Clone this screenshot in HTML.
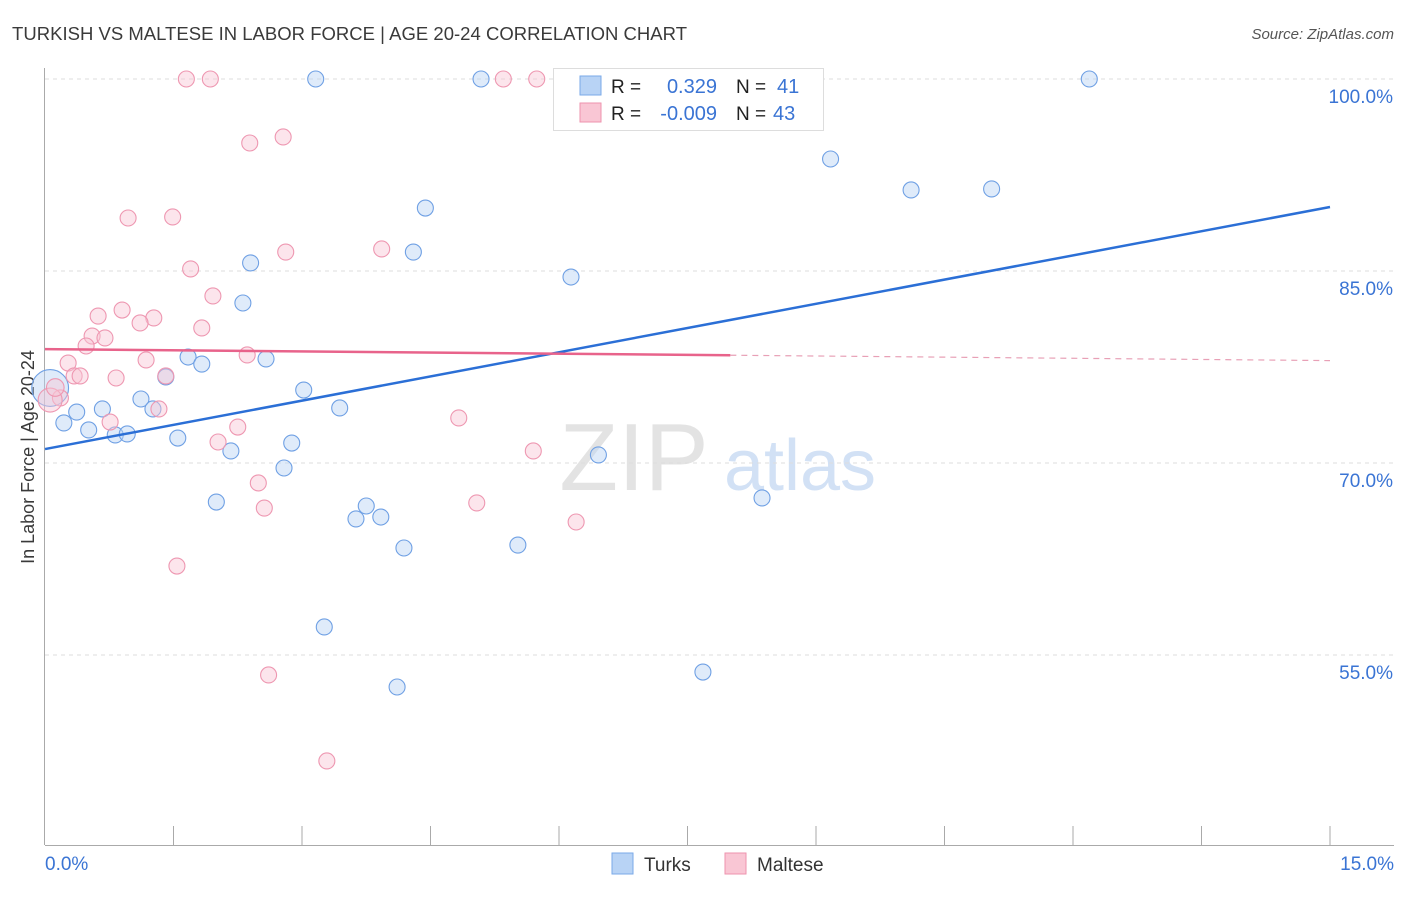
<!DOCTYPE html>
<html><head><meta charset="utf-8"><style>
body{margin:0;background:#fff;font-family:"Liberation Sans",sans-serif;}
svg text{font-family:"Liberation Sans",sans-serif;}
</style></head><body>
<svg id="chart" width="1406" height="892" xmlns="http://www.w3.org/2000/svg">
<text x="12" y="40" font-size="18.5" fill="#3a3a3a" textLength="675">TURKISH VS MALTESE IN LABOR FORCE | AGE 20-24 CORRELATION CHART</text>
<text x="1394" y="39" font-size="15" fill="#555" font-style="italic" text-anchor="end">Source: ZipAtlas.com</text>
<text transform="translate(34,457) rotate(-90)" font-size="18" fill="#3a3a3a" text-anchor="middle">In Labor Force | Age 20-24</text>
<g>
<text x="634" y="490" font-size="96" fill="#ddd" font-family="Liberation Serif" text-anchor="middle" opacity="0.8">ZIP</text>
<text x="800" y="490" font-size="72" fill="#c8daf3" text-anchor="middle" opacity="0.8">atlas</text>
</g>
<g id="grid"></g><g id="axes"></g><g id="marks"></g>
<g>
<rect x="553.5" y="68.5" width="270" height="62" fill="#fff" stroke="#ddd"/>
<rect x="580" y="76" width="21" height="19" fill="#b8d3f5" stroke="#7aaae8"/>
<rect x="580" y="103" width="21" height="19" fill="#f9c6d4" stroke="#ee93ae"/>
<text x="611" y="93" font-size="19" fill="#222">R = </text><text x="717" y="93" font-size="20" fill="#3a74d4" text-anchor="end">0.329</text>
<text x="736" y="93" font-size="19" fill="#222">N = </text><text x="777" y="93" font-size="20" fill="#3a74d4">41</text>
<text x="611" y="120" font-size="19" fill="#222">R = </text><text x="717" y="120" font-size="20" fill="#3a74d4" text-anchor="end">-0.009</text>
<text x="736" y="120" font-size="19" fill="#222">N = </text><text x="773" y="120" font-size="20" fill="#3a74d4">43</text>
</g>
<g>
<rect x="612" y="853" width="21" height="21" fill="#b8d3f5" stroke="#7aaae8"/>
<text x="644" y="871" font-size="19" fill="#333">Turks</text>
<rect x="725" y="853" width="21" height="21" fill="#f9c6d4" stroke="#ee93ae"/>
<text x="757" y="871" font-size="19" fill="#333">Maltese</text>
</g>
</svg>
<script>
const yTicks=[100,85,70,55];
const yTickLabels=["100.0%","85.0%","70.0%","55.0%"];
const xTickLabels=["0.0%","15.0%"];
const turksX=[3.16,5.09,12.19,9.17,10.11,11.05,4.44,4.30,2.40,6.14,2.31,1.67,1.83,2.58,1.41,3.02,1.12,0.37,0.67,1.26,3.44,0.22,0.51,0.82,0.96,1.55,2.88,2.17,6.46,2.79,2.0,8.37,3.75,3.63,3.92,4.19,5.52,3.26,7.68,4.11,0.06];
const turksY=[100,100,100,93.75,91.33,91.41,89.92,86.48,85.63,84.53,82.5,78.28,77.73,78.13,76.72,75.70,75.0,73.98,74.22,74.22,74.30,73.13,72.58,72.19,72.27,71.95,71.56,70.94,70.63,69.61,66.95,67.27,66.64,65.63,65.78,63.36,63.59,57.19,53.67,52.5,75.86];
const turksSize=[1,1,1,1,1,1,1,1,1,1,1,1,1,1,1,1,1,1,1,1,1,1,1,1,1,1,1,1,1,1,1,1,1,1,1,1,1,1,1,1,2.3];
const maltX=[1.65,1.93,5.35,5.74,2.78,2.39,0.97,1.49,3.93,2.81,1.70,1.96,0.90,0.62,1.27,1.11,1.83,0.55,0.70,0.48,2.36,1.18,0.27,0.34,0.41,0.83,1.41,0.18,1.33,4.83,0.76,2.25,2.02,5.70,2.49,2.56,5.04,6.20,1.54,2.61,3.29,0.06,0.12];
const maltY=[100,100,100,100,95.47,95.0,89.14,89.22,86.72,86.48,85.16,83.05,81.95,81.48,81.33,80.94,80.55,79.92,79.77,79.14,78.44,78.05,77.81,76.80,76.80,76.64,76.80,75.08,74.22,73.52,73.20,72.81,71.64,70.94,68.44,66.48,66.88,65.39,61.95,53.44,46.72,74.92,75.9];
const maltSize=[1,1,1,1,1,1,1,1,1,1,1,1,1,1,1,1,1,1,1,1,1,1,1,1,1,1,1,1,1,1,1,1,1,1,1,1,1,1,1,1,1,1.5,1.1];
const turksLine=[71.09,90.0];
const maltLine=[78.9,78.0];
const maltSolidEnd=8.0;

const X=v=>45+v*(1285/15);
const Y=v=>79+(100-v)*12.8;
const NS="http://www.w3.org/2000/svg";
function mk(tag,attrs,parent){const e=document.createElementNS(NS,tag);for(const k in attrs)e.setAttribute(k,attrs[k]);parent.appendChild(e);return e;}
const grid=document.getElementById('grid'),axes=document.getElementById('axes'),marks=document.getElementById('marks');
yTicks.forEach((t,i)=>{
 const l=mk('line',{x1:45,x2:1394,y1:Y(t),y2:Y(t),stroke:'#ddd','stroke-dasharray':'4,4'},grid);
 
 
 const tx=mk('text',{x:1393,y:Y(t)+24,'font-size':19,fill:'#3a74d4','text-anchor':'end'},axes);
 tx.textContent=yTickLabels[i];
 
 
});
const ya=mk('line',{x1:44.5,x2:44.5,y1:68,y2:845,stroke:'#aaa'},axes);


const xa=mk('line',{x1:45,x2:1394,y1:845.5,y2:845.5,stroke:'#aaa'},axes);


for(let i=1;i<=10;i++){
 const x=45+i*128.5;
 const t=mk('line',{x1:x,x2:x,y1:826,y2:845,stroke:'#aaa'},axes);
 
 
}
[[0,'start',45],[15,'end',1394]].forEach((d,i)=>{
 const t=mk('text',{x:d[2],y:870,'font-size':19,fill:'#3a74d4','text-anchor':d[1]},axes);
 t.textContent=xTickLabels[i];
 
 
});
function dots(xs,ys,sz,fill,stroke,name){
 xs.forEach((x,i)=>{
  const c=mk('circle',{cx:X(x),cy:Y(ys[i]),r:8*sz[i],fill:fill,'fill-opacity':0.45,stroke:stroke,'stroke-width':1.1},marks);
  
  
 });
}
dots(turksX,turksY,turksSize,'#b8d3f5','#6fa0e4','turks-point');
dots(maltX,maltY,maltSize,'#f9c6d4','#ee97b1','maltese-point');
const tl=mk('line',{x1:X(0),y1:Y(turksLine[0]),x2:X(15),y2:Y(turksLine[1]),stroke:'#2b6fd6','stroke-width':2.5},marks);


const mAt=v=>maltLine[0]+(maltLine[1]-maltLine[0])*v/15;
const ml=mk('line',{x1:X(0),y1:Y(mAt(0)),x2:X(maltSolidEnd),y2:Y(mAt(maltSolidEnd)),stroke:'#e8638b','stroke-width':2.5},marks);


const md=mk('line',{x1:X(maltSolidEnd),y1:Y(mAt(maltSolidEnd)),x2:X(15),y2:Y(mAt(15)),stroke:'#e8a0b6','stroke-width':1.2,'stroke-dasharray':'6,5'},marks);


</script>
</body></html>
